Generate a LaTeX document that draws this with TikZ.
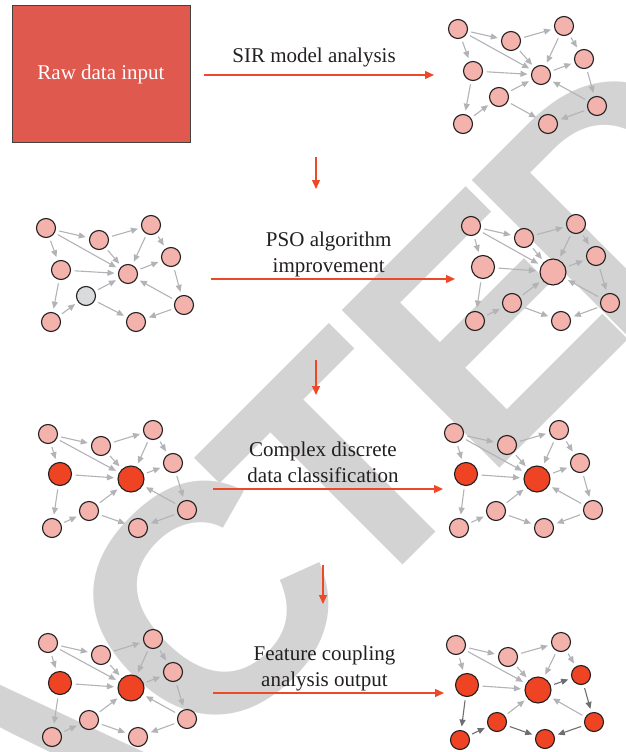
\documentclass[tikz,border=0pt]{standalone}
\usepackage{fontspec}
\setmainfont{Liberation Serif}
\newfontfamily\wmfont{Liberation Sans}
\usetikzlibrary{arrows.meta}
\definecolor{wmgray}{RGB}{211,211,211}
\definecolor{pinkn}{RGB}{244,178,173}
\definecolor{redn}{RGB}{238,68,36}
\definecolor{grayn}{RGB}{218,219,220}
\definecolor{edgec}{RGB}{178,179,183}
\definecolor{edged}{RGB}{110,110,114}
\definecolor{outl}{RGB}{35,31,32}
\definecolor{flow}{RGB}{239,72,40}
\definecolor{boxred}{RGB}{224,89,79}
\definecolor{txt}{RGB}{35,31,32}
\begin{document}
\begin{tikzpicture}[x=1pt,y=-1pt,
  nd/.style={circle,draw=outl,line width=1.1pt,fill=pinkn,minimum size=19pt,inner sep=0pt},
  bignd/.style={minimum size=23pt},
  hugend/.style={minimum size=26pt},
  hot/.style={fill=redn},
  edge/.style={draw=edgec,line width=1.1pt,-{Triangle[length=7pt,width=6pt]},shorten <=3.5pt,shorten >=3.5pt},
  edgedark/.style={edge,draw=edged},
  flowarrow/.style={draw=flow,line width=1.3pt,-{Triangle[length=9pt,width=8pt]}},
  lbl/.style={font=\fontsize{21}{26}\selectfont,text=txt,align=center,inner sep=0pt},
  wm/.style={font=\wmfont\bfseries\fontsize{324}{324}\selectfont,text=wmgray,inner sep=0pt,rotate=45}
]
\useasboundingbox (0,0) rectangle (626,752);

% watermark
\node[wm,anchor=base west] (wmA) at (33.6,934.4) {A};
\node[wm,anchor=base] (wmC) at (286,682) {C};
\node[wm,anchor=base] (wmT) at (419.6,548.4) {T};
\node[wm,anchor=base west] (wmE) at (484,484) {E};
\node[wm,anchor=base west] (wmD) at (614.8,353.2) {D};

% raw data box
\node[draw=outl!85,fill=boxred,line width=1pt,minimum width=178pt,minimum height=136pt,inner sep=0pt,
      text=white,font=\fontsize{21}{26}\selectfont] (raw) at (101,74) {Raw data input};

% flow arrows
\coordinate (r1s) at (204,75);  \coordinate (r1e) at (434,75);
\coordinate (r2s) at (211,279); \coordinate (r2e) at (455,279);
\coordinate (r3s) at (213,489); \coordinate (r3e) at (443,489);
\coordinate (r4s) at (213,693); \coordinate (r4e) at (444,693);
\coordinate (d1s) at (316,157); \coordinate (d1e) at (316,189);
\coordinate (d2s) at (316,360); \coordinate (d2e) at (316,395);
\coordinate (d3s) at (323,565); \coordinate (d3e) at (323,604);
\foreach \s/\e in {r1s/r1e,r2s/r2e,r3s/r3e,r4s/r4e,d1s/d1e,d2s/d2e,d3s/d3e}
  \draw[flowarrow] (\s) -- (\e);

% labels
\node[lbl,anchor=base] (l1) at (314,63) {SIR model analysis};
\node[lbl] (l2) at (328.7,254.9) {PSO algorithm\\improvement};
\node[lbl] (l3) at (323,462.4) {Complex discrete\\data classification};
\node[lbl] (l4) at (324.5,668.2) {Feature coupling\\analysis output};

% graph 1 (top right)
\node[nd] (p1a) at (458,29) {};
\node[nd] (p1b) at (511,41) {};
\node[nd] (p1c) at (564,26) {};
\node[nd] (p1d) at (584,59) {};
\node[nd] (p1e) at (473,71) {};
\node[nd] (p1f) at (541,75) {};
\node[nd] (p1g) at (499,97) {};
\node[nd] (p1h) at (463,124) {};
\node[nd] (p1i) at (548,124) {};
\node[nd] (p1j) at (597,106) {};

% graph 2
\node[nd] (p2a) at (46,228) {};
\node[nd] (p2b) at (99,240) {};
\node[nd] (p2c) at (151,225) {};
\node[nd] (p2d) at (171,257) {};
\node[nd] (p2e) at (61,270) {};
\node[nd] (p2f) at (128,274) {};
\node[nd,fill=grayn] (p2g) at (86,296) {};
\node[nd] (p2h) at (51,322) {};
\node[nd] (p2i) at (136,322) {};
\node[nd] (p2j) at (184,305) {};

% graph 3
\node[nd] (p3a) at (471,226) {};
\node[nd] (p3b) at (524,238) {};
\node[nd] (p3c) at (576,224) {};
\node[nd] (p3d) at (596,256) {};
\node[nd,bignd] (p3e) at (483,267) {};
\node[nd,hugend] (p3f) at (553,272) {};
\node[nd] (p3g) at (512,303) {};
\node[nd] (p3h) at (475,321) {};
\node[nd] (p3i) at (561,321) {};
\node[nd] (p3j) at (610,303) {};

% graph 4
\node[nd] (p4a) at (48,434) {};
\node[nd] (p4b) at (101,446) {};
\node[nd] (p4c) at (153,430) {};
\node[nd] (p4d) at (173,463) {};
\node[nd,bignd,hot] (p4e) at (60,474) {};
\node[nd,hugend,hot] (p4f) at (131,479) {};
\node[nd] (p4g) at (89,511) {};
\node[nd] (p4h) at (52,528) {};
\node[nd] (p4i) at (138,528) {};
\node[nd] (p4j) at (187,510) {};

% graph 5
\node[nd] (p5a) at (454,433) {};
\node[nd] (p5b) at (507,445) {};
\node[nd] (p5c) at (559,430) {};
\node[nd] (p5d) at (580,463) {};
\node[nd,bignd,hot] (p5e) at (466,474) {};
\node[nd,hugend,hot] (p5f) at (537,479) {};
\node[nd] (p5g) at (496,511) {};
\node[nd] (p5h) at (459,528) {};
\node[nd] (p5i) at (544,528) {};
\node[nd] (p5j) at (593,510) {};

% graph 6
\node[nd] (p6a) at (48,643) {};
\node[nd] (p6b) at (101,655) {};
\node[nd] (p6c) at (153,639) {};
\node[nd] (p6d) at (173,672) {};
\node[nd,bignd,hot] (p6e) at (60,683) {};
\node[nd,hugend,hot] (p6f) at (131,688) {};
\node[nd] (p6g) at (89,720) {};
\node[nd] (p6h) at (52,737) {};
\node[nd] (p6i) at (138,737) {};
\node[nd] (p6j) at (187,719) {};

% graph 7
\node[nd] (p7a) at (456,645) {};
\node[nd] (p7b) at (508,657) {};
\node[nd] (p7c) at (561,642) {};
\node[nd,hot] (p7d) at (581,675) {};
\node[nd,bignd,hot] (p7e) at (467,685) {};
\node[nd,hugend,hot] (p7f) at (538,690) {};
\node[nd,hot] (p7g) at (497,722) {};
\node[nd,hot] (p7h) at (460,740) {};
\node[nd,hot] (p7i) at (545,739) {};
\node[nd,hot] (p7j) at (594,722) {};

% edges
\foreach \g in {1,...,6}{
  \foreach \s/\t in {a/b,b/c,a/e,a/f,b/f,c/f,c/d,e/f,f/d,d/j,j/f,j/i,e/h,h/g,g/f,g/i}
    \draw[edge] (p\g\s) -- (p\g\t);
}
\foreach \s/\t in {a/b,b/c,a/e,a/f,b/f,c/f,c/d,e/f,j/f,g/f}
  \draw[edge] (p7\s) -- (p7\t);
\foreach \s/\t in {f/d,d/j,j/i,e/h,h/g,g/i}
  \draw[edgedark] (p7\s) -- (p7\t);
\end{tikzpicture}
\end{document}
